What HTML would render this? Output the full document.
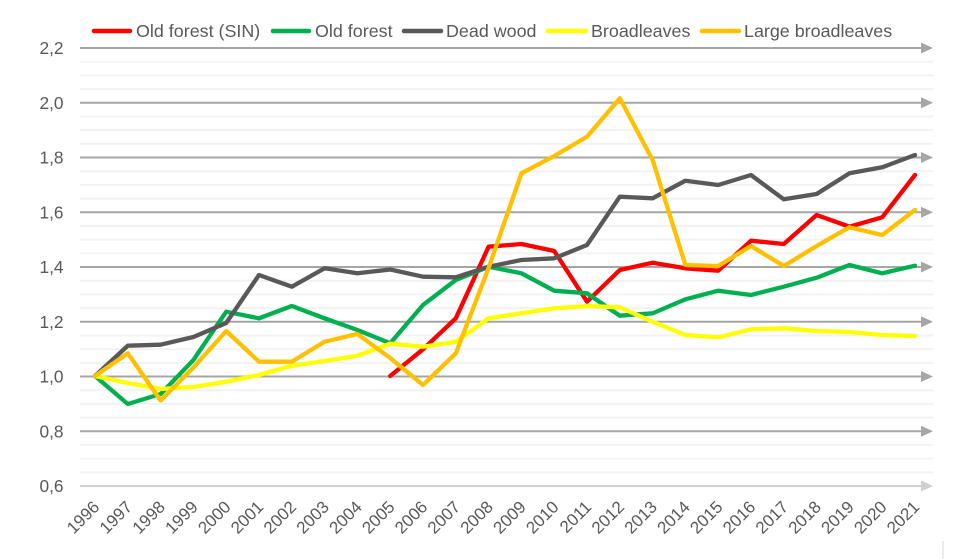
<!DOCTYPE html>
<html><head><meta charset="utf-8"><style>
html,body{margin:0;padding:0;background:#fff;}
svg{display:block;font-family:"Liberation Sans",Arial,sans-serif;}
</style></head><body>
<svg width="959" height="559" viewBox="0 0 959 559" xmlns="http://www.w3.org/2000/svg">
<rect width="959" height="559" fill="#fff"/>
<g id="minor" stroke="#f2f2f2" stroke-width="2">
</g>
<g id="major"></g>
<g id="series" fill="none" stroke-width="4.3" stroke-linejoin="round" stroke-linecap="round"></g>
<g id="ylab" fill="#595959" font-size="17.3" text-anchor="end"></g>
<g id="xlab" fill="#595959" font-size="17" text-anchor="end"></g>
<g id="legend" font-size="17.9" fill="#595959">
<line x1="94" y1="31" x2="130" y2="31" stroke="#ff0000" stroke-width="4.5" stroke-linecap="round"/>
<text x="136" y="37">Old forest (SIN)</text>
<line x1="273" y1="31" x2="309" y2="31" stroke="#00b050" stroke-width="4.5" stroke-linecap="round"/>
<text x="315" y="37">Old forest</text>
<line x1="404" y1="31" x2="441" y2="31" stroke="#595959" stroke-width="4.5" stroke-linecap="round"/>
<text x="446" y="37">Dead wood</text>
<line x1="548" y1="31" x2="586" y2="31" stroke="#ffff00" stroke-width="4.5" stroke-linecap="round"/>
<text x="591" y="37">Broadleaves</text>
<line x1="702" y1="31" x2="739" y2="31" stroke="#ffc000" stroke-width="4.5" stroke-linecap="round"/>
<text x="744" y="37">Large broadleaves</text>
</g>
<line x1="943" y1="541" x2="943" y2="559" stroke="#d9d9d9" stroke-width="1"/>
<script>
(function(){
var NS="http://www.w3.org/2000/svg";
function el(t,a,p,txt){var e=document.createElementNS(NS,t);for(var k in a)e.setAttribute(k,a[k]);if(txt!==undefined)e.textContent=txt;p.appendChild(e);return e;}
var top=48, step=54.75;
var minor=document.getElementById('minor'), major=document.getElementById('major');
for(var j=0;j<8;j++){for(var m=1;m<4;m++){var y=top+j*step+m*step/4;el('line',{x1:80,y1:y,x2:933,y2:y},minor);}}
var ylab=document.getElementById('ylab');
var labs=["2,2","2,0","1,8","1,6","1,4","1,2","1,0","0,8","0,6"];
for(var j=0;j<9;j++){var y=top+j*step;var c=(j==8)?"#d0d0d0":"#a6a6a6";
el('line',{x1:80,y1:y,x2:922,y2:y,stroke:c,'stroke-width':2},major);
el('polygon',{points:"921,"+(y-5.5)+" 933,"+y+" 921,"+(y+5.5),fill:c},major);
el('text',{x:63.5,y:y+6},ylab,labs[j]);}
var x0=95, dx=32.8;
var xlab=document.getElementById('xlab');
for(var i=0;i<26;i++){var x=x0+dx*i+5.5, y=508;el('text',{x:x,y:y,transform:"rotate(-45 "+x+" "+y+")"},xlab,String(1996+i));}
var S=[
["#ff0000",[null,null,null,null,null,null,null,null,null,376,349.3,318.3,246.7,244,251,301.7,270,262.7,268.3,270.7,240.7,244,215,226.7,217.3,175]],
["#00b050",[376,404,394,360,311.7,318.3,306,318.3,330,343.3,305,280,266.7,273.3,290.7,293.3,315.7,313.3,299.3,290.7,295,286.7,277.7,265,273.3,265.7]],
["#595959",[376,345.7,344.7,337,323,275,286.7,268.3,273.3,269.5,276.7,277.3,266.7,260,258.3,245,196.7,198.3,180.7,185,175,199.3,194,173.3,167.3,155]],
["#ffff00",[376,383,389,387,381.7,375,365.7,361,355.7,343.7,346.7,341.7,318.3,313.3,308.3,306,307.3,321.7,335,337.3,329.3,328.3,331,332,335,336]],
["#ffc000",[376,353.3,400.5,367.5,331,361.7,361.7,341.7,334,358,385,353.3,268,173.3,156,136.7,98.3,160,265,266,246,266,246,227.3,235,210]]
];
var g=document.getElementById('series');
S.forEach(function(s){var pts=[];s[1].forEach(function(v,i){if(v!==null)pts.push((x0+dx*i).toFixed(1)+","+v);});
el('polyline',{points:pts.join(" "),stroke:s[0]},g);});
})();
</script>
</svg>
</body></html>
